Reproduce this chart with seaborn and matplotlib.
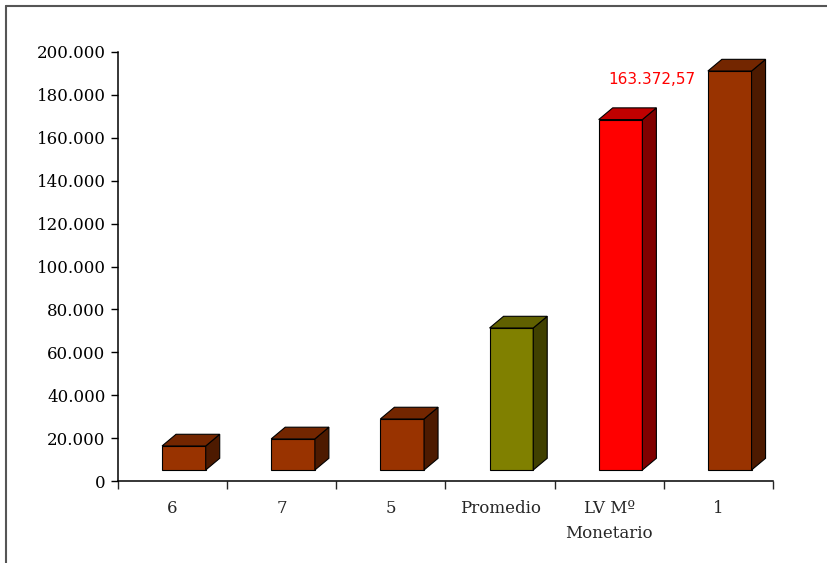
"""Recreate a 3D-style Excel column chart (Spanish labels) with seaborn."""

import matplotlib

matplotlib.use("Agg")
import matplotlib.pyplot as plt
import matplotlib.transforms as mtransforms
import numpy as np
import pandas as pd
import seaborn as sns
from matplotlib.lines import Line2D
from matplotlib.patches import Polygon
from matplotlib.ticker import FuncFormatter

# Data
categories = ["6", "7", "5", "Promedio", "LV Mº\nMonetario", "1"]
values = [11200, 14500, 23800, 66200, 163372.57, 186000]
front_colors = ["#993300", "#993300", "#993300", "#808000", "#FF0000", "#993300"]
top_colors = ["#732600", "#732600", "#732600", "#606000", "#C00000", "#732600"]
side_colors = ["#4D1A00", "#4D1A00", "#4D1A00", "#404000", "#800000", "#4D1A00"]
highlight_index = 4
highlight_label = "163.372,57"
y_ticks = list(range(0, 200001, 20000))

sns.set_style("ticks")
plt.rcParams["font.family"] = ["DejaVu Serif"]

W, H = 827, 563
fig = plt.figure(figsize=(W / 100, H / 100), dpi=100)
fig.patch.set_facecolor("white")
ax = fig.add_axes([118 / W, 1 - 481 / H, (773 - 118) / W, (481 - 52) / H])

df = pd.DataFrame({"categoria": categories, "valor": values})
sns.barplot(
    data=df,
    x="categoria",
    y="valor",
    hue="categoria",
    palette=front_colors,
    legend=False,
    width=0.4,
    saturation=1,
    edgecolor="black",
    linewidth=0.8,
    ax=ax,
)

ax.set_xlim(-0.5, len(categories) - 0.5)
ax.set_ylim(0, 200000)
ax.set_xlabel("")
ax.set_ylabel("")

# 3D look: shift bars off the axis plane and add top / side faces
shift = mtransforms.ScaledTranslation(11.3 / 100, 11 / 100, fig.dpi_scale_trans)
bar_trans = ax.transData + shift
px_x = ax.bbox.width / len(categories)
px_y = ax.bbox.height / 200000
ddx = 14 / px_x
ddy = 11.7 / px_y

bars = sorted(ax.patches, key=lambda p: p.get_x())
for i, p in enumerate(bars):
    p.set_transform(bar_trans)
    p.set_clip_on(False)
    x0, w, h = p.get_x(), p.get_width(), p.get_height()
    top = Polygon(
        [(x0, h), (x0 + w, h), (x0 + w + ddx, h + ddy), (x0 + ddx, h + ddy)],
        closed=True, facecolor=top_colors[i], edgecolor="black",
        linewidth=0.8, transform=bar_trans, clip_on=False,
    )
    side = Polygon(
        [(x0 + w, 0), (x0 + w, h), (x0 + w + ddx, h + ddy), (x0 + w + ddx, ddy)],
        closed=True, facecolor=side_colors[i], edgecolor="black",
        linewidth=0.8, transform=bar_trans, clip_on=False,
    )
    ax.add_patch(side)
    ax.add_patch(top)

ax.annotate(
    highlight_label,
    xy=(highlight_index, values[highlight_index]),
    xycoords=bar_trans,
    xytext=(22.6, 28.5),
    textcoords="offset points",
    ha="center",
    va="center",
    color="red",
    fontsize=11,
    family="DejaVu Sans",
)

# Axes styling
ax.set_yticks(y_ticks)
ax.yaxis.set_major_formatter(FuncFormatter(lambda v, _: f"{int(v):,}".replace(",", ".")))
ax.tick_params(axis="y", length=5, width=1, pad=4, labelsize=12, colors="black")

ax.set_xticks(np.arange(-0.5, len(categories)), labels=[""] * (len(categories) + 1))
ax.set_xticks(range(len(categories)), labels=categories, minor=True)
ax.tick_params(axis="x", which="major", length=6, width=1, direction="out")
ax.tick_params(axis="x", which="minor", length=0, pad=13.5, labelsize=12)
for lbl in ax.get_xticklabels(minor=True):
    lbl.set_linespacing(1.6)

sns.despine(ax=ax)
for s in ("left", "bottom"):
    ax.spines[s].set_color("black")
    ax.spines[s].set_linewidth(1.1)

# Figure border (left and top only)
bx, by = 5.5 / W, 1 - 5.5 / H
fig.add_artist(Line2D([bx, bx], [0, by], transform=fig.transFigure, color="#555555", lw=1.5))
fig.add_artist(Line2D([bx, 1], [by, by], transform=fig.transFigure, color="#555555", lw=1.5))

fig.savefig("out.png", dpi=100)
plt.close(fig)
